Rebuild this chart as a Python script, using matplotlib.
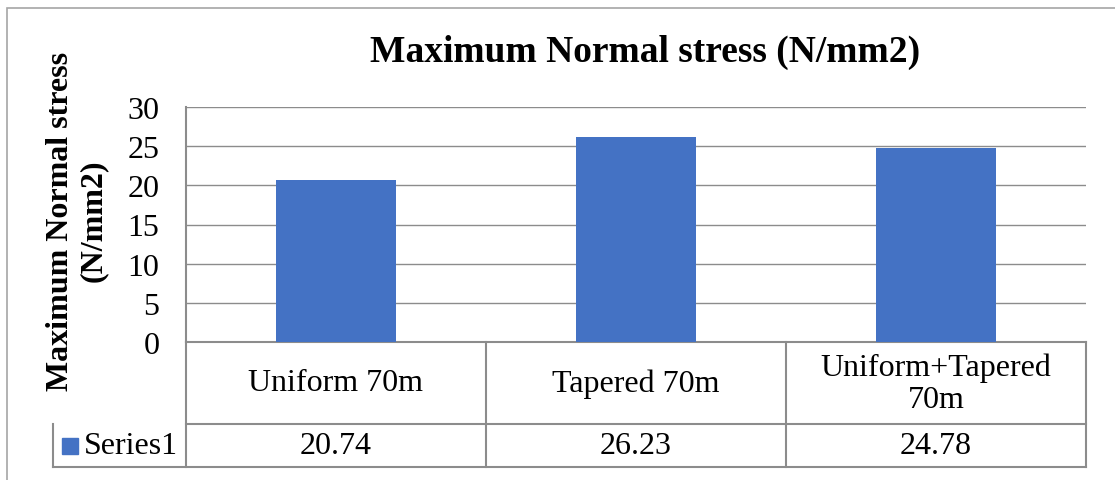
import matplotlib.pyplot as plt
from matplotlib.patches import Rectangle
from matplotlib.lines import Line2D

# data
categories = ['Uniform 70m', 'Tapered 70m', 'Uniform+Tapered\n70m']
values = [20.74, 26.23, 24.78]
value_labels = ['20.74', '26.23', '24.78']
series_name = 'Series1'
yticks = [0, 5, 10, 15, 20, 25, 30]

plt.rcParams['font.family'] = ['Liberation Serif', 'DejaVu Serif']

W, H = 1115, 481
fig = plt.figure(figsize=(W / 100, H / 100), dpi=100)

bar_color = '#4472C4'
line_color = '#8c8c8c'
fs = 23

# outer chart border (runs off right and bottom)
fig.patches.append(Rectangle((7 / W, -0.05), 1.2, 1 - 9 / H + 0.05, transform=fig.transFigure,
                             fill=False, edgecolor='#a6a6a6', linewidth=1.2))

# plot area
ax = fig.add_axes([186 / W, (481 - 343) / H, 900 / W, 235 / H])
x = list(range(len(categories)))
ax.bar(x, values, width=0.4, color=bar_color, zorder=3)
ax.set_xlim(-0.5, len(categories) - 0.5)
ax.set_ylim(0, 30)
ax.set_yticks(yticks)
ax.set_yticklabels([str(t) for t in yticks], fontsize=fs)
ax.tick_params(axis='y', length=0, pad=19)
ax.set_xticks([])
ax.grid(axis='y', color=line_color, linewidth=1, zorder=0)
for s in ['top', 'right']:
    ax.spines[s].set_visible(False)
ax.spines['left'].set_color(line_color)
ax.spines['bottom'].set_color(line_color)
ax.spines['left'].set_linewidth(1.5)
ax.spines['bottom'].set_linewidth(1.5)

# data table below the plot
row1 = (343 - 425) / 235
row2 = (343 - 468) / 235
leg_left = (53 - 186) / 900


def aline(xs, ys):
    ax.add_line(Line2D(xs, ys, transform=ax.transAxes, color=line_color,
                       linewidth=1.5, clip_on=False))


aline([0, 1], [row1, row1])
aline([leg_left, 1], [row2, row2])
aline([leg_left, leg_left], [row1, row2])
for i in range(len(categories) + 1):
    xf = i / len(categories)
    aline([xf, xf], [0, row2])

for i, (cat, lab) in enumerate(zip(categories, value_labels)):
    xc = (i + 0.5) / len(categories)
    ax.text(xc, row1 / 2, cat, transform=ax.transAxes, ha='center', va='center',
            fontsize=fs, linespacing=1.15)
    ax.text(xc, (row1 + row2) / 2, lab, transform=ax.transAxes, ha='center', va='center',
            fontsize=fs)

# legend key inside the table
ax.add_patch(Rectangle(((62 - 186) / 900, (343 - 455) / 235), 16 / 900, 16 / 235,
                       transform=ax.transAxes, color=bar_color, clip_on=False))
ax.text((84 - 186) / 900, (row1 + row2) / 2, series_name, transform=ax.transAxes,
        ha='left', va='center', fontsize=fs)

# title and axis label
fig.text(645 / W, 1 - 52 / H, 'Maximum Normal stress (N/mm2)', ha='center', va='center',
         fontsize=27, fontweight='bold')
fig.text(77 / W, 1 - 221 / H, 'Maximum Normal stress\n(N/mm2)', ha='center', va='center',
         rotation=90, fontsize=fs, fontweight='bold', linespacing=1.2)

fig.savefig('out.png', dpi=100)
